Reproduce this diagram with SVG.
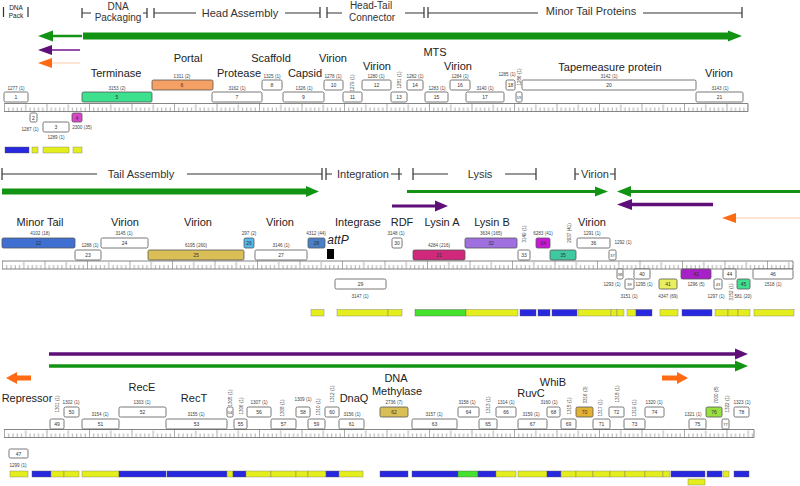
<svg xmlns="http://www.w3.org/2000/svg" width="800" height="486" viewBox="0 0 800 486">
<style>
text{font-family:"Liberation Sans",Arial,sans-serif;fill:#222}
.f{font-size:11px;text-anchor:middle}
.m{font-size:11px;text-anchor:middle;fill:#333}
.m2{font-size:10px;text-anchor:middle;fill:#333}
.l{font-size:4.6px;text-anchor:middle;fill:#444}
.n{font-size:5px;text-anchor:middle;fill:#333}
.g rect{stroke:#555;stroke-width:0.8}
.w{fill:#fff}
.br{stroke:#333;stroke-width:1.2;fill:none}
.ax{stroke:#666;stroke-width:0.8;fill:none}
.bl{fill:#2828e0;stroke:#555;stroke-width:0.4}
.ye{fill:#e4ee1c;stroke:#777;stroke-width:0.4}
.gr{fill:#44e22c;stroke:#555;stroke-width:0.4}
</style>
<defs>
<pattern id="tk" width="42.5" height="8" patternUnits="userSpaceOnUse">
<path d="M0.5 0V8M4.75 4V8M9 4V8M13.25 4V8M17.5 4V8M21.75 1V8M26 4V8M30.25 4V8M34.5 4V8M38.75 4V8" stroke="#888" stroke-width="0.7"/>
</pattern>
</defs>

<!-- module brackets -->
<g id="modules">
<path class="br" d="M3.5 7V17M28 7V17"/>
<text x="16" y="10" style="font-size:6.5px;text-anchor:middle">DNA</text>
<text x="16" y="18" style="font-size:6.5px;text-anchor:middle">Pack</text>
<path class="br" d="M82 8V18M82 13H91M143 13H147M147 8V18M154 8V18M154 13H196M285 13H320M320 7V18M327 7V18M327 13H342M405 13H424M424 7V18M428 7V18M428 13H538M643 13H742M742 7V18"/>
<text class="m2" x="118" y="9.5">DNA</text>
<text class="m2" x="118" y="21">Packaging</text>
<text class="m" x="240" y="17">Head Assembly</text>
<text class="m2" x="371" y="9">Head-Tail</text>
<text class="m2" x="372" y="21">Connector</text>
<text class="m" x="591" y="15">Minor Tail Proteins</text>
<path class="br" d="M2 168V180M2 174H97M187 174H322M322 168V180M326 168V180M326 174H332M391 174H402M399 168V180M413 168V180M413 174H448M505 174H536M536 168V180M575 168V180M575 174H579M610 174H615M615 168V180"/>
<text class="m" x="141" y="178">Tail Assembly</text>
<text class="m" x="363" y="178">Integration</text>
<text class="m" x="480" y="178">Lysis</text>
<text class="m" x="595" y="178">Virion</text>
</g>

<!-- arrows -->
<g id="connectors">
<rect x="83" y="32.5" width="646" height="7" fill="#139313"/>
<polygon points="728,30.5 742,36 728,41.5" fill="#139313"/>
<line x1="52" y1="36" x2="82" y2="36" stroke="#139313" stroke-width="2.5"/>
<polygon points="38,36 53,30.5 53,41.5" fill="#139313"/>
<line x1="52" y1="50" x2="80" y2="50" stroke="#8a3aa0" stroke-width="1.8"/>
<polygon points="38,50 52,45 52,55" fill="#5e0f78"/>
<line x1="52" y1="63" x2="80" y2="63" stroke="#fbc9a8" stroke-width="1"/>
<polygon points="38,63 52,58 52,68" fill="#ff6a12"/>

<rect x="2" y="188.5" width="305" height="6" fill="#139313"/>
<polygon points="306,186 319,191.5 306,197" fill="#139313"/>
<line x1="407" y1="191.5" x2="597" y2="191.5" stroke="#139313" stroke-width="3"/>
<polygon points="595,186.5 608,191.5 595,196.5" fill="#139313"/>
<line x1="630" y1="191.5" x2="800" y2="191.5" stroke="#139313" stroke-width="3"/>
<polygon points="617,191.5 631,186 631,197" fill="#139313"/>
<line x1="392" y1="206" x2="437" y2="206" stroke="#5e0f78" stroke-width="3.2"/>
<polygon points="435,200.5 448,206 435,211.5" fill="#5e0f78"/>
<line x1="630" y1="204.5" x2="713" y2="204.5" stroke="#5e0f78" stroke-width="3.5"/>
<polygon points="617,204.5 632,199 632,210" fill="#5e0f78"/>
<line x1="735" y1="218" x2="800" y2="218" stroke="#fbc9a8" stroke-width="1"/>
<polygon points="722,218 736,213 736,223" fill="#ff6a12"/>

<line x1="49" y1="354" x2="737" y2="354" stroke="#5e0f78" stroke-width="3.5"/>
<polygon points="735,348.5 748,354 735,359.5" fill="#5e0f78"/>
<line x1="49" y1="366" x2="737" y2="366" stroke="#139313" stroke-width="3.5"/>
<polygon points="735,360.5 748,366 735,371.5" fill="#139313"/>
<rect x="16" y="375.5" width="15" height="5" fill="#ff6a12"/>
<polygon points="6,378 17,372 17,384" fill="#ff6a12"/>
<rect x="662" y="375.5" width="16" height="5" fill="#ff6a12"/>
<polygon points="677,372 688,378 677,384" fill="#ff6a12"/>
</g>

<!-- rulers -->
<g id="ruler1" transform="translate(4,103.5)"><rect width="744" height="8" fill="url(#tk)"/><path class="ax" d="M0 0H744M0 8H744M744 0V8"/></g>
<g id="ruler2" transform="translate(2,261)"><rect width="791" height="8" fill="url(#tk)"/><path class="ax" d="M0 0H791M0 8H791M791 0V8"/></g>
<g id="ruler3" transform="translate(4,429.5)"><rect width="750" height="8" fill="url(#tk)"/><path class="ax" d="M0 0H750M0 8H750M750 0V8"/></g>

<!-- function labels -->
<g id="functions">
<text class="f" x="116" y="77">Terminase</text>
<text class="f" x="188" y="62">Portal</text>
<text class="f" x="239" y="77">Protease</text>
<text class="f" x="271" y="62">Scaffold</text>
<text class="f" x="305" y="77">Capsid</text>
<text class="f" x="333" y="62">Virion</text>
<text class="f" x="377" y="70">Virion</text>
<text class="f" x="435" y="56">MTS</text>
<text class="f" x="458" y="70">Virion</text>
<text class="f" x="610" y="71">Tapemeasure protein</text>
<text class="f" x="719" y="77">Virion</text>
<text class="f" x="40" y="226">Minor Tail</text>
<text class="f" x="125" y="226">Virion</text>
<text class="f" x="198" y="226">Virion</text>
<text class="f" x="280" y="226">Virion</text>
<text class="f" x="358" y="226">Integrase</text>
<text class="f" x="402" y="226">RDF</text>
<text class="f" x="442" y="226">Lysin A</text>
<text class="f" x="492" y="226">Lysin B</text>
<text class="f" x="592" y="226">Virion</text>
<text class="f" x="338" y="244" style="font-style:italic;font-size:12px">attP</text>
<text class="f" x="27" y="402">Repressor</text>
<text class="f" x="142" y="391">RecE</text>
<text class="f" x="194" y="402">RecT</text>
<text class="f" x="354" y="402">DnaQ</text>
<text class="f" x="396" y="382">DNA</text>
<text class="f" x="397" y="395">Methylase</text>
<text class="f" x="553" y="386">WhiB</text>
<text class="f" x="531" y="397">RuvC</text>
</g>

<!-- row 1 genes -->
<g id="g1" class="g"><rect class="w" x="4" y="92" width="24" height="10" rx="1.5"/><text class="n" x="16" y="99">1</text><text class="l" x="16" y="89.5">1277 (1)</text></g>
<g id="g2" class="g"><rect class="w" x="30" y="113" width="7" height="9" rx="1.5"/><text class="n" x="33.5" y="119.5">2</text><text class="l" x="30" y="130.5">1287 (1)</text></g>
<g id="g3" class="g"><rect class="w" x="43" y="122" width="26" height="10" rx="1.5"/><text class="n" x="56" y="129">3</text><text class="l" x="56" y="138.5">1289 (1)</text></g>
<g id="g4" class="g"><rect x="72" y="113" width="10" height="9" rx="1.5" fill="#dd44cc"/><text class="n" x="77" y="119.5">4</text><text class="l" x="82" y="128.5">2300 (35)</text></g>
<g id="g5" class="g"><rect x="82" y="92" width="70" height="10" rx="1.5" fill="#3de08c"/><text class="n" x="117" y="99">5</text><text class="l" x="117" y="89.5">3153 (2)</text></g>
<g id="g6" class="g"><rect x="152" y="80" width="61" height="10" rx="1.5" fill="#f5a064"/><text class="n" x="182" y="87">6</text><text class="l" x="182" y="77.5">1311 (2)</text></g>
<g id="g7" class="g"><rect class="w" x="212" y="92" width="50" height="10" rx="1.5"/><text class="n" x="237" y="99">7</text><text class="l" x="237" y="89.5">3162 (1)</text></g>
<g id="g8" class="g"><rect class="w" x="262" y="80" width="20" height="10" rx="1.5"/><text class="n" x="272" y="87">8</text><text class="l" x="272" y="77.5">1325 (1)</text></g>
<g id="g9" class="g"><rect class="w" x="283" y="92" width="41" height="10" rx="1.5"/><text class="n" x="303.5" y="99">9</text><text class="l" x="304" y="89.5">1326 (1)</text></g>
<g id="g10" class="g"><rect class="w" x="324" y="80" width="19" height="10" rx="1.5"/><text class="n" x="333.5" y="87">10</text><text class="l" x="333" y="77.5">1278 (1)</text></g>
<g id="g11" class="g"><rect class="w" x="343" y="92" width="19" height="10" rx="1.5"/><text class="n" x="352.5" y="99">11</text><text class="l" transform="translate(353.5,83) rotate(-90)">1279 (1)</text></g>
<g id="g12" class="g"><rect class="w" x="362" y="80" width="29" height="10" rx="1.5"/><text class="n" x="376.5" y="87">12</text><text class="l" x="376" y="77.5">1280 (1)</text></g>
<g id="g13" class="g"><rect class="w" x="391" y="92" width="16" height="10" rx="1.5"/><text class="n" x="399" y="99">13</text><text class="l" transform="translate(400.5,80) rotate(-90)">1281 (1)</text></g>
<g id="g14" class="g"><rect class="w" x="407" y="80" width="16" height="10" rx="1.5"/><text class="n" x="415" y="87">14</text><text class="l" x="415" y="77.5">1282 (1)</text></g>
<g id="g15" class="g"><rect class="w" x="425" y="92" width="23" height="10" rx="1.5"/><text class="n" x="436.5" y="99">15</text><text class="l" x="437" y="89.5">1283 (1)</text></g>
<g id="g16" class="g"><rect class="w" x="450" y="80" width="20" height="10" rx="1.5"/><text class="n" x="460" y="87">16</text><text class="l" x="460" y="77.5">1284 (1)</text></g>
<g id="g17" class="g"><rect class="w" x="466" y="92" width="38" height="10" rx="1.5"/><text class="n" x="485" y="99">17</text><text class="l" x="485" y="89.5">3140 (1)</text></g>
<g id="g18" class="g"><rect class="w" x="506" y="80" width="9" height="10" rx="1.5"/><text class="n" x="510.5" y="87">18</text><text class="l" x="507" y="76">1285 (1)</text></g>
<g id="g19" class="g"><rect class="w" x="516" y="92" width="6" height="10" rx="1.5"/><text class="n" x="519" y="99" style="font-size:4px">19</text><text class="l" transform="translate(520.5,77) rotate(-90)">1286 (1)</text></g>
<g id="g20" class="g"><rect class="w" x="522" y="80" width="174" height="10" rx="1.5"/><text class="n" x="609" y="87">20</text><text class="l" x="609" y="77.5">3142 (1)</text></g>
<g id="g21" class="g"><rect class="w" x="696" y="92" width="47" height="10" rx="1.5"/><text class="n" x="719.5" y="99">21</text><text class="l" x="720" y="89.5">3143 (1)</text></g>

<!-- row 2 genes -->
<g id="g22" class="g"><rect x="2" y="238" width="73" height="10" rx="1.5" fill="#3f6fd0"/><text class="n" x="38.5" y="245">22</text><text class="l" x="40" y="234.5">4102 (18)</text></g>
<g id="g23" class="g"><rect class="w" x="75" y="250" width="26" height="10" rx="1.5"/><text class="n" x="88" y="257">23</text><text class="l" x="90" y="246.5">1288 (1)</text></g>
<g id="g24" class="g"><rect class="w" x="101" y="238" width="47" height="10" rx="1.5"/><text class="n" x="124.5" y="245">24</text><text class="l" x="124" y="234.5">3145 (1)</text></g>
<g id="g25" class="g"><rect x="148" y="250" width="96" height="10" rx="1.5" fill="#d9bf55"/><text class="n" x="196" y="257">25</text><text class="l" x="196" y="246.5">6195 (260)</text></g>
<g id="g26" class="g"><rect x="244" y="238" width="10" height="10" rx="1.5" fill="#55b8ea"/><text class="n" x="249" y="245">26</text><text class="l" x="249" y="234.5">297 (2)</text></g>
<g id="g27" class="g"><rect class="w" x="255" y="250" width="52" height="10" rx="1.5"/><text class="n" x="281" y="257">27</text><text class="l" x="281" y="246.5">3146 (1)</text></g>
<g id="g28" class="g"><rect x="308" y="238" width="17" height="10" rx="1.5" fill="#4a80c8"/><text class="n" x="316.5" y="245">28</text><text class="l" x="316" y="234.5">4312 (44)</text></g>
<g id="attP"><rect x="327" y="249" width="7" height="10" fill="#000"/></g>
<g id="g29" class="g"><rect class="w" x="335" y="279" width="51" height="10" rx="1.5"/><text class="n" x="360.5" y="286">29</text><text class="l" x="360" y="297.5">3147 (1)</text></g>
<g id="g30" class="g"><rect class="w" x="392" y="238" width="10" height="10" rx="1.5"/><text class="n" x="397" y="245">30</text><text class="l" x="396" y="234.5">3148 (1)</text></g>
<g id="g31" class="g"><rect x="413" y="250" width="52" height="10" rx="1.5" fill="#d0287a"/><text class="n" x="439" y="257">31</text><text class="l" x="439" y="246.5">4284 (216)</text></g>
<g id="g32" class="g"><rect x="465" y="238" width="52" height="10" rx="1.5" fill="#a070e0"/><text class="n" x="491" y="245">32</text><text class="l" x="491" y="234.5">3634 (165)</text></g>
<g id="g33" class="g"><rect class="w" x="518" y="250" width="12" height="10" rx="1.5"/><text class="n" x="524" y="257">33</text><text class="l" transform="translate(525.5,234) rotate(-90)">3149 (1)</text></g>
<g id="g34" class="g"><rect x="536" y="238" width="14" height="10" rx="1.5" fill="#c818d8"/><text class="n" x="543" y="245">34</text><text class="l" x="543" y="234.5">6283 (41)</text></g>
<g id="g35" class="g"><rect x="550" y="250" width="26" height="10" rx="1.5" fill="#40c8a0"/><text class="n" x="563" y="257">35</text><text class="l" transform="translate(570.5,233) rotate(-90)">2937 (41)</text></g>
<g id="g36" class="g"><rect class="w" x="577" y="238" width="33" height="10" rx="1.5"/><text class="n" x="593.5" y="245">36</text><text class="l" x="592" y="234.5">1291 (1)</text></g>
<g id="g37" class="g"><rect class="w" x="609" y="250" width="7" height="10" rx="1.5"/><text class="n" x="612.5" y="257" style="font-size:4px">37</text><text class="l" x="623" y="244">1292 (1)</text></g>
<g id="g38" class="g"><rect class="w" x="617" y="269" width="6" height="10" rx="1.5"/><text class="n" x="620" y="276" style="font-size:4px">38</text><text class="l" x="612" y="285.5">1293 (1)</text></g>
<g id="g39" class="g"><rect class="w" x="625" y="279" width="9" height="10" rx="1.5"/><text class="n" x="629.5" y="286" style="font-size:4px">39</text><text class="l" x="629" y="297.5">3151 (1)</text></g>
<g id="g40" class="g"><rect class="w" x="634" y="269" width="16" height="10" rx="1.5"/><text class="n" x="642" y="276">40</text><text class="l" x="644" y="285.5">1295 (1)</text></g>
<g id="g41" class="g"><rect x="659" y="279" width="18" height="10" rx="1.5" fill="#e8f060"/><text class="n" x="668" y="286">41</text><text class="l" x="668" y="297.5">4347 (69)</text></g>
<g id="g42" class="g"><rect x="681" y="269" width="30" height="10" rx="1.5" fill="#a820c8"/><text class="n" x="696" y="276">42</text><text class="l" x="696" y="285.5">1296 (5)</text></g>
<g id="g43" class="g"><rect class="w" x="714" y="279" width="8" height="10" rx="1.5"/><text class="n" x="718" y="286" style="font-size:4px">43</text><text class="l" x="716" y="297.5">1297 (1)</text></g>
<g id="g44" class="g"><rect class="w" x="723" y="269" width="13" height="10" rx="1.5"/><text class="n" x="729.5" y="276">44</text><text class="l" transform="translate(732.5,292) rotate(-90)">3152 (1)</text></g>
<g id="g45" class="g"><rect x="737" y="279" width="13" height="10" rx="1.5" fill="#40e090"/><text class="n" x="743.5" y="286">45</text><text class="l" x="743" y="297.5">581 (20)</text></g>
<g id="g46" class="g"><rect class="w" x="753" y="269" width="40" height="10" rx="1.5"/><text class="n" x="773" y="276">46</text><text class="l" x="773" y="285.5">1518 (1)</text></g>

<!-- row 3 genes -->
<g id="g47" class="g"><rect class="w" x="9" y="449" width="19" height="9" rx="1.5"/><text class="n" x="18.5" y="455.5">47</text><text class="l" x="18" y="466.5">1299 (1)</text></g>
<g id="g49" class="g"><rect class="w" x="50" y="419" width="14" height="10" rx="1.5"/><text class="n" x="57" y="426">49</text><text class="l" transform="translate(58.5,404) rotate(-90)">1301 (1)</text></g>
<g id="g50" class="g"><rect class="w" x="64" y="407" width="15" height="10" rx="1.5"/><text class="n" x="71.5" y="414">50</text><text class="l" x="71" y="403.5">1302 (1)</text></g>
<g id="g51" class="g"><rect class="w" x="82" y="419" width="37" height="10" rx="1.5"/><text class="n" x="100.5" y="426">51</text><text class="l" x="100" y="415.5">3154 (1)</text></g>
<g id="g52" class="g"><rect class="w" x="119" y="407" width="47" height="10" rx="1.5"/><text class="n" x="142.5" y="414">52</text><text class="l" x="142" y="403.5">1303 (1)</text></g>
<g id="g53" class="g"><rect class="w" x="166" y="419" width="61" height="10" rx="1.5"/><text class="n" x="196.5" y="426">53</text><text class="l" x="196" y="415.5">3155 (1)</text></g>
<g id="g54" class="g"><rect class="w" x="227" y="407" width="6" height="10" rx="1.5"/><text class="n" x="230" y="414" style="font-size:4px">54</text><text class="l" transform="translate(231.5,398) rotate(-90)">1305 (1)</text></g>
<g id="g55" class="g"><rect class="w" x="234" y="419" width="13" height="10" rx="1.5"/><text class="n" x="240.5" y="426">55</text><text class="l" transform="translate(242.5,406) rotate(-90)">1306 (1)</text></g>
<g id="g56" class="g"><rect class="w" x="247" y="407" width="24" height="10" rx="1.5"/><text class="n" x="259" y="414">56</text><text class="l" x="259" y="403.5">1307 (1)</text></g>
<g id="g57" class="g"><rect class="w" x="271" y="419" width="25" height="10" rx="1.5"/><text class="n" x="283.5" y="426">57</text><text class="l" transform="translate(283.5,408) rotate(-90)">1308 (1)</text></g>
<g id="g58" class="g"><rect class="w" x="296" y="407" width="14" height="10" rx="1.5"/><text class="n" x="303" y="414">58</text><text class="l" x="303" y="401">1309 (1)</text></g>
<g id="g59" class="g"><rect class="w" x="308" y="419" width="17" height="10" rx="1.5"/><text class="n" x="316.5" y="426">59</text><text class="l" transform="translate(319.5,407) rotate(-90)">1310 (1)</text></g>
<g id="g60" class="g"><rect class="w" x="325" y="407" width="14" height="10" rx="1.5"/><text class="n" x="332" y="414">60</text><text class="l" transform="translate(333.5,394) rotate(-90)">1312 (1)</text></g>
<g id="g61" class="g"><rect class="w" x="339" y="419" width="25" height="10" rx="1.5"/><text class="n" x="351.5" y="426">61</text><text class="l" x="352" y="415.5">3156 (1)</text></g>
<g id="g62" class="g"><rect x="380" y="407" width="28" height="10" rx="1.5" fill="#d9bf55"/><text class="n" x="394" y="414">62</text><text class="l" x="394" y="403.5">2736 (7)</text></g>
<g id="g63" class="g"><rect class="w" x="412" y="419" width="45" height="10" rx="1.5"/><text class="n" x="434.5" y="426">63</text><text class="l" x="434" y="415.5">3157 (1)</text></g>
<g id="g64" class="g"><rect class="w" x="458" y="407" width="21" height="10" rx="1.5"/><text class="n" x="468.5" y="414">64</text><text class="l" x="467" y="403.5">3158 (1)</text></g>
<g id="g65" class="g"><rect class="w" x="479" y="419" width="18" height="10" rx="1.5"/><text class="n" x="488" y="426">65</text><text class="l" transform="translate(489.5,405) rotate(-90)">1313 (1)</text></g>
<g id="g66" class="g"><rect class="w" x="496" y="407" width="20" height="10" rx="1.5"/><text class="n" x="506" y="414">66</text><text class="l" x="506" y="403.5">1314 (1)</text></g>
<g id="g67" class="g"><rect class="w" x="518" y="419" width="29" height="10" rx="1.5"/><text class="n" x="532.5" y="426">67</text><text class="l" x="531" y="415.5">3159 (1)</text></g>
<g id="g68" class="g"><rect class="w" x="547" y="407" width="13" height="10" rx="1.5"/><text class="n" x="553.5" y="414">68</text><text class="l" x="549" y="403.5">3160 (1)</text></g>
<g id="g69" class="g"><rect class="w" x="561" y="419" width="15" height="10" rx="1.5"/><text class="n" x="568.5" y="426">69</text><text class="l" transform="translate(570.5,406) rotate(-90)">1315 (1)</text></g>
<g id="g70" class="g"><rect x="576" y="407" width="17" height="10" rx="1.5" fill="#e2b232"/><text class="n" x="584.5" y="414">70</text><text class="l" transform="translate(586.5,395) rotate(-90)">3316 (3)</text></g>
<g id="g71" class="g"><rect class="w" x="593" y="419" width="17" height="10" rx="1.5"/><text class="n" x="601.5" y="426">71</text><text class="l" transform="translate(601.5,408) rotate(-90)">1317 (1)</text></g>
<g id="g72" class="g"><rect class="w" x="609" y="407" width="15" height="10" rx="1.5"/><text class="n" x="616.5" y="414">72</text><text class="l" transform="translate(618.5,394) rotate(-90)">1318 (1)</text></g>
<g id="g73" class="g"><rect class="w" x="624" y="419" width="21" height="10" rx="1.5"/><text class="n" x="634.5" y="426">73</text><text class="l" transform="translate(636,408) rotate(-90)">1319 (1)</text></g>
<g id="g74" class="g"><rect class="w" x="645" y="407" width="19" height="10" rx="1.5"/><text class="n" x="654.5" y="414">74</text><text class="l" x="654" y="403.5">1320 (1)</text></g>
<g id="g75" class="g"><rect class="w" x="689" y="419" width="17" height="10" rx="1.5"/><text class="n" x="697.5" y="426">75</text><text class="l" x="693" y="415.5">1321 (1)</text></g>
<g id="g76" class="g"><rect x="706" y="407" width="16" height="10" rx="1.5" fill="#98e040"/><text class="n" x="714" y="414">76</text><text class="l" transform="translate(717.5,395) rotate(-90)">7000 (8)</text></g>
<g id="g77" class="g"><rect class="w" x="722" y="419" width="7" height="10" rx="1.5"/><text class="n" x="725.5" y="426" style="font-size:4px">77</text><text class="l" transform="translate(728.5,404) rotate(-90)">1322 (1)</text></g>
<g id="g78" class="g"><rect class="w" x="734" y="407" width="15" height="10" rx="1.5"/><text class="n" x="741.5" y="414">78</text><text class="l" x="742" y="403.5">1323 (1)</text></g>

<!-- pham colour bars -->
<g id="bars1">
<rect class="bl" x="5" y="147" width="24" height="6"/>
<rect class="ye" x="32" y="147" width="6" height="6"/>
<rect class="ye" x="43" y="147" width="26" height="6"/>
<rect class="ye" x="73" y="147" width="9" height="6"/>
</g>
<g id="bars2">
<rect class="ye" x="311" y="309.5" width="13" height="6.5"/>
<rect class="ye" x="337" y="309.5" width="51" height="6.5"/>
<rect class="ye" x="388" y="309.5" width="14" height="6.5"/>
<rect class="gr" x="415" y="309.5" width="51" height="6.5"/>
<rect class="ye" x="466" y="309.5" width="52" height="6.5"/>
<rect class="bl" x="520" y="309.5" width="16" height="6.5"/>
<rect class="bl" x="538" y="309.5" width="12" height="6.5"/>
<rect class="bl" x="552" y="309.5" width="25" height="6.5"/>
<rect class="ye" x="578" y="309.5" width="33" height="6.5"/>
<rect class="ye" x="611" y="309.5" width="6" height="6.5"/>
<rect class="ye" x="617" y="309.5" width="7" height="6.5"/>
<rect class="ye" x="627" y="309.5" width="9" height="6.5"/>
<rect class="bl" x="636" y="309.5" width="16" height="6.5"/>
<rect class="ye" x="660" y="309.5" width="18" height="6.5"/>
<rect class="bl" x="682" y="309.5" width="30" height="6.5"/>
<rect class="ye" x="715" y="309.5" width="13" height="6.5"/>
<rect class="ye" x="728" y="309.5" width="10" height="6.5"/>
<rect class="ye" x="738" y="309.5" width="12" height="6.5"/>
<rect class="ye" x="754" y="309.5" width="40" height="6.5"/>
</g>
<g id="bars3">
<rect class="ye" x="10" y="471" width="18" height="6"/>
<rect class="bl" x="32" y="471" width="19" height="6"/>
<rect class="ye" x="51" y="471" width="13" height="6"/>
<rect class="ye" x="64" y="471" width="15" height="6"/>
<rect class="ye" x="82" y="471" width="37" height="6"/>
<rect class="bl" x="119" y="471" width="47" height="6"/>
<rect class="bl" x="167" y="471" width="60" height="6"/>
<rect class="ye" x="227" y="471" width="6" height="6"/>
<rect class="bl" x="233" y="471" width="13" height="6"/>
<rect class="ye" x="246" y="471" width="25" height="6"/>
<rect class="ye" x="271" y="471" width="25" height="6"/>
<rect class="ye" x="296" y="471" width="12" height="6"/>
<rect class="ye" x="308" y="471" width="18" height="6"/>
<rect class="bl" x="326" y="471" width="13" height="6"/>
<rect class="ye" x="339" y="471" width="24" height="6"/>
<rect class="bl" x="380" y="471" width="28" height="6"/>
<rect class="bl" x="412" y="471" width="46" height="6"/>
<rect class="gr" x="458" y="471" width="20" height="6"/>
<rect class="bl" x="478" y="471" width="18" height="6"/>
<rect class="ye" x="496" y="471" width="20" height="6"/>
<rect class="ye" x="518" y="471" width="29" height="6"/>
<rect class="bl" x="547" y="471" width="14" height="6"/>
<rect class="ye" x="561" y="471" width="15" height="6"/>
<rect class="ye" x="576" y="471" width="17" height="6"/>
<rect class="ye" x="593" y="471" width="17" height="6"/>
<rect class="ye" x="610" y="471" width="15" height="6"/>
<rect class="ye" x="625" y="471" width="20" height="6"/>
<rect class="ye" x="645" y="471" width="18" height="6"/>
<rect class="ye" x="663" y="471" width="7" height="6"/>
<rect class="bl" x="671" y="471" width="34" height="6"/>
<rect class="bl" x="707" y="471" width="15" height="6"/>
<rect class="ye" x="723" y="471" width="6" height="6"/>
<rect class="bl" x="734" y="471" width="15" height="6"/>
<rect class="ye" x="688" y="479" width="17" height="6"/>
</g>
</svg>
